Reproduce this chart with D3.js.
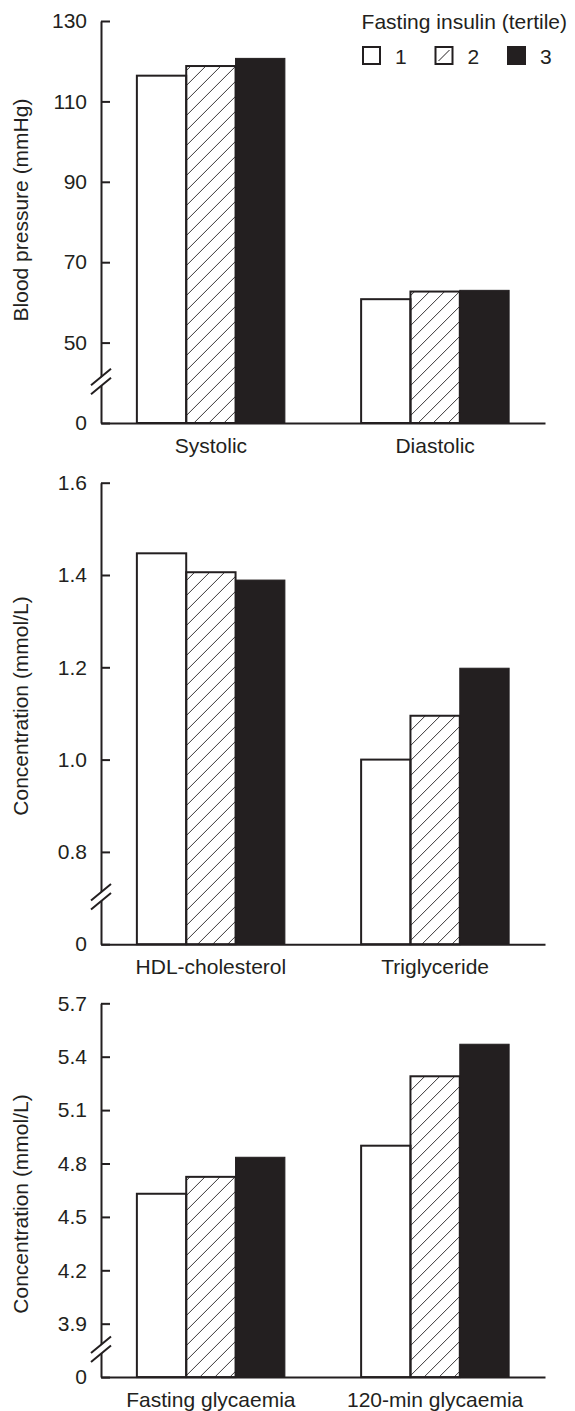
<!DOCTYPE html>
<html>
<head>
<meta charset="utf-8">
<script src="https://cdn.jsdelivr.net/npm/d3@7"></script>
<style>
  body { margin: 0; background: #fff; }
  svg text { font-family: "Liberation Sans", Arial, sans-serif; fill: #231f20; }
</style>
</head>
<body>
<svg id="chart" width="575" height="1411"></svg>
<script>
// data
var tertiles = ["1", "2", "3"]

var bpCategories = ["Systolic", "Diastolic"]
var bpTicks = [50, 70, 90, 110, 130]
var bpValues = [[116.4, 118.8, 120.7], [60.8, 62.7, 63.0]]

var lipidCategories = ["HDL-cholesterol", "Triglyceride"]
var lipidTicks = [0.8, 1.0, 1.2, 1.4, 1.6]
var lipidValues = [[1.447, 1.406, 1.389], [1.0, 1.095, 1.198]]

var glucoseCategories = ["Fasting glycaemia", "120-min glycaemia"]
var glucoseTicks = [3.9, 4.2, 4.5, 4.8, 5.1, 5.4, 5.7]
var glucoseValues = [[4.63, 4.725, 4.835], [4.9, 5.29, 5.47]]

var legendTitle = "Fasting insulin (tertile)"

var ink = "#231f20"
var fontSize = 21
var svg = d3.select("#chart")

// hatch pattern for tertile 2
var defs = svg.append("defs")
defs.append("pattern")
    .attr("id", "hatch")
    .attr("patternUnits", "userSpaceOnUse")
    .attr("width", 15)
    .attr("height", 15)
    .append("path")
    .attr("d", "M0,15L15,0M-4,4L4,-4M11,19L19,11")
    .attr("stroke", ink)
    .attr("stroke-width", 0.9)

var fills = ["#fff", "url(#hatch)", ink]

var panels = [
    {cats: bpCategories, ticks: bpTicks, values: bpValues, title: "Blood pressure (mmHg)", top: 21, step: 80.4, fmt: d3.format("d"), titleY: 210, legend: true},
    {cats: lipidCategories, ticks: lipidTicks, values: lipidValues, title: "Concentration (mmol/L)", top: 482.7, step: 92.3, fmt: d3.format(".1f"), titleY: 706},
    {cats: glucoseCategories, ticks: glucoseTicks, values: glucoseValues, title: "Concentration (mmol/L)", top: 1003.3, step: 53.4, fmt: d3.format(".1f"), titleY: 1204}
]

var x0 = 101, x1 = 545

panels.forEach(function(p) {
    var n = p.ticks.length
    var base = p.top + n * p.step
    var y = d3.scaleLinear()
        .domain([0, p.ticks[0], p.ticks[n - 1]])
        .range([base, p.top + (n - 1) * p.step, p.top])

    var x = d3.scaleBand()
        .domain(p.cats)
        .range([x0, x1])
        .paddingInner(0.34)
        .paddingOuter(0.16)
    var xs = d3.scaleBand()
        .domain(tertiles)
        .range([0, x.bandwidth()])

    var g = svg.append("g")

    // bars
    var groups = g.selectAll(".grp")
        .data(p.cats)
        .enter().append("g")
        .attr("transform", function(c) { return "translate(" + x(c) + ",0)" })
    groups.each(function(c, ci) {
        d3.select(this).selectAll("rect")
            .data(p.values[ci])
            .enter().append("rect")
            .attr("x", function(v, i) { return xs(tertiles[i]) })
            .attr("width", xs.bandwidth())
            .attr("y", function(v) { return y(v) })
            .attr("height", function(v) { return base - y(v) })
            .attr("fill", function(v, i) { return fills[i] })
            .attr("stroke", ink)
            .attr("stroke-width", function(v, i) { return i == 2 ? 1 : 2 })
    })

    // y axis
    var yAxis = g.append("g")
        .attr("transform", "translate(" + x0 + ",0)")
        .call(d3.axisLeft(y)
            .tickValues([0].concat(p.ticks))
            .tickSizeInner(-9)
            .tickSizeOuter(0)
            .tickPadding(14)
            .tickFormat(function(d) { return d === 0 ? "0" : p.fmt(d) }))
    yAxis.selectAll("path, line").attr("stroke", ink).attr("stroke-width", 2)
    yAxis.selectAll("text").attr("font-size", fontSize).attr("fill", ink).attr("font-family", null)

    // x axis
    var xAxis = g.append("g")
        .attr("transform", "translate(0," + base + ")")
        .call(d3.axisBottom(x).tickSize(0).tickPadding(15))
    xAxis.selectAll("path").attr("stroke", ink).attr("stroke-width", 2)
    xAxis.selectAll("text").attr("font-size", fontSize).attr("fill", ink).attr("font-family", null)

    // axis break
    var by = (y(p.ticks[0]) + base) / 2 - 1
    var brk = g.append("g").attr("transform", "translate(" + x0 + "," + by + ")")
    brk.append("path")
        .attr("d", "M-9.5,4L9.5,-12L9.5,-4L-9.5,12Z")
        .attr("fill", "#fff")
    brk.append("path")
        .attr("d", "M-10,3.5L10,-13M-10,12.5L10,-4")
        .attr("stroke", ink)
        .attr("stroke-width", 2)
        .attr("fill", "none")

    // y title
    svg.append("text")
        .attr("transform", "translate(28," + p.titleY + ") rotate(-90)")
        .attr("text-anchor", "middle")
        .attr("font-size", fontSize)
        .text(p.title)

    if (p.legend) {
        var lg = svg.append("g")
        lg.append("text")
            .attr("x", 567)
            .attr("y", 29)
            .attr("text-anchor", "end")
            .attr("font-size", fontSize)
            .text(legendTitle)
        var item = lg.selectAll(".item")
            .data(tertiles)
            .enter().append("g")
            .attr("transform", function(d, i) { return "translate(" + (363 + i * 72.5) + ",47)" })
        item.append("rect")
            .attr("width", 17)
            .attr("height", 17)
            .attr("fill", function(d, i) { return i == 2 ? ink : "#fff" })
            .attr("stroke", ink)
            .attr("stroke-width", 2)
        item.filter(function(d, i) { return i == 1 })
            .append("path")
            .attr("d", "M3,14L14,3")
            .attr("stroke", ink)
            .attr("stroke-width", 1)
        item.append("text")
            .attr("x", 32)
            .attr("y", 16.5)
            .attr("font-size", fontSize)
            .text(function(d) { return d })
    }
})
</script>
</body>
</html>
